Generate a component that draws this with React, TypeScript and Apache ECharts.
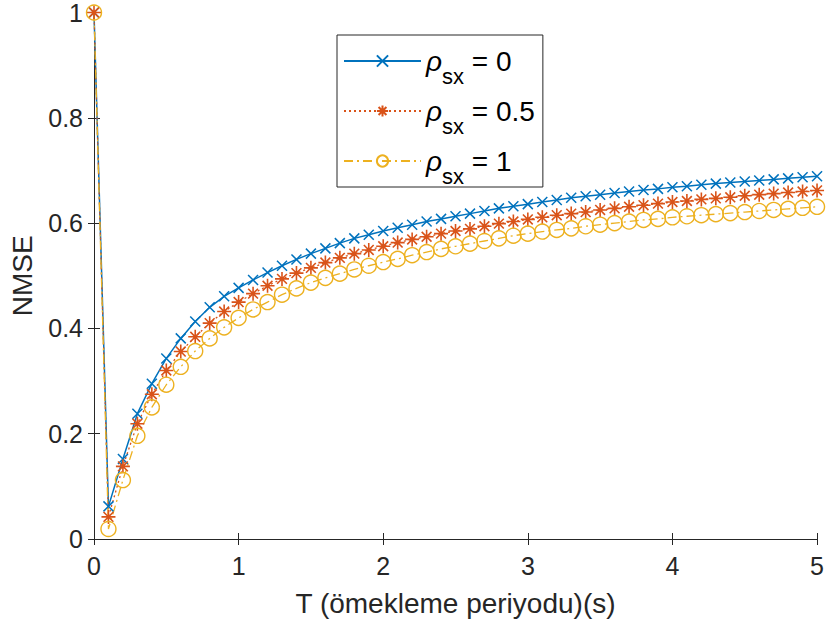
import React, { useEffect, useRef } from "react";
import * as echarts from "echarts";

// Sampling period T (s)
const tValues = [
  0, 0.1, 0.2, 0.3, 0.4, 0.5, 0.6, 0.7, 0.8, 0.9,
  1.0, 1.1, 1.2, 1.3, 1.4, 1.5, 1.6, 1.7, 1.8, 1.9,
  2.0, 2.1, 2.2, 2.3, 2.4, 2.5, 2.6, 2.7, 2.8, 2.9,
  3.0, 3.1, 3.2, 3.3, 3.4, 3.5, 3.6, 3.7, 3.8, 3.9,
  4.0, 4.1, 4.2, 4.3, 4.4, 4.5, 4.6, 4.7, 4.8, 4.9,
  5.0,
];

// NMSE for rho_sx = 0
const nmseRho0 = [
  1.0, 0.062, 0.152, 0.238, 0.295, 0.343, 0.381, 0.413, 0.44, 0.461,
  0.477, 0.492, 0.506, 0.519, 0.531, 0.542, 0.552, 0.562, 0.571, 0.578,
  0.585, 0.591, 0.597, 0.603, 0.608, 0.613, 0.618, 0.623, 0.628, 0.632,
  0.636, 0.64, 0.644, 0.648, 0.651, 0.654, 0.657, 0.66, 0.663, 0.665,
  0.668, 0.67, 0.673, 0.675, 0.677, 0.679, 0.681, 0.683, 0.685, 0.687,
  0.689,
];

// NMSE for rho_sx = 0.5
const nmseRho05 = [
  1.0, 0.042, 0.138, 0.219, 0.275, 0.32, 0.356, 0.384, 0.41, 0.432,
  0.45, 0.466, 0.481, 0.494, 0.505, 0.515, 0.525, 0.534, 0.542, 0.549,
  0.556, 0.563, 0.569, 0.574, 0.58, 0.585, 0.589, 0.594, 0.599, 0.603,
  0.607, 0.611, 0.615, 0.618, 0.621, 0.625, 0.628, 0.631, 0.634, 0.637,
  0.64, 0.642, 0.645, 0.647, 0.649, 0.652, 0.654, 0.656, 0.658, 0.66,
  0.662,
];

// NMSE for rho_sx = 1
const nmseRho1 = [
  1.0, 0.019, 0.112, 0.196, 0.25, 0.293, 0.327, 0.357, 0.381, 0.402,
  0.42, 0.436, 0.45, 0.464, 0.476, 0.487, 0.496, 0.504, 0.512, 0.519,
  0.526, 0.532, 0.539, 0.545, 0.551, 0.556, 0.561, 0.566, 0.571, 0.576,
  0.58, 0.584, 0.587, 0.59, 0.594, 0.597, 0.6, 0.603, 0.606, 0.608,
  0.611, 0.613, 0.615, 0.617, 0.619, 0.621, 0.623, 0.625, 0.627, 0.629,
  0.631,
];

const seriesNames = ["ρsx = 0", "ρsx = 0.5", "ρsx = 1"];
const legendValues = ["0", "0.5", "1"];
const xTickLabels = ["0", "1", "2", "3", "4", "5"];
const yTickLabels = ["0", "0.2", "0.4", "0.6", "0.8", "1"];

const xAxisTitle = "T (ömekleme periyodu)(s)";
const yAxisTitle = "NMSE";

const FONT = "'Liberation Sans', Arial, Helvetica, sans-serif";
const AXIS_COLOR = "#262626";
const BLUE = "#0072BD";
const ORANGE = "#D95319";
const YELLOW = "#EDB120";

// marker outlines (stroked, not filled)
const crossPath = "path://M0,0L10,10M10,0L0,10";
const asteriskPath =
  "path://M5,0L5,10M0,5L10,5M1.5,1.5L8.5,8.5M8.5,1.5L1.5,8.5";

function pairs(values: number[]) {
  return tValues.map((t, i) => [t, values[i]]);
}

export default function App() {
  const ref = useRef<HTMLDivElement>(null);

  useEffect(() => {
    if (!ref.current) return;
    const chart = echarts.init(ref.current, null, { renderer: "svg" });

    const tickLabelStyle = {
      color: AXIS_COLOR,
      fontFamily: FONT,
      fontSize: 25,
    };
    const axisLine = { show: true, lineStyle: { color: AXIS_COLOR, width: 1 } };
    const axisTick = {
      show: true,
      inside: true,
      length: 6,
      lineStyle: { color: AXIS_COLOR, width: 1 },
    };

    const LH = 52;

    const option: any = {
      animation: false,
      backgroundColor: "#ffffff",
      grid: { left: 94, top: 11, right: 7, bottom: 88, containLabel: false },
      xAxis: [
        {
          type: "value",
          position: "bottom",
          min: 0,
          max: 5,
          interval: 1,
          axisLine,
          axisTick,
          splitLine: { show: false },
          axisLabel: {
            ...tickLabelStyle,
            margin: 14,
            formatter: (v: number) => xTickLabels[Math.round(v)] ?? "",
          },
          name: xAxisTitle,
          nameLocation: "middle",
          nameGap: 50,
          nameTextStyle: { color: AXIS_COLOR, fontFamily: FONT, fontSize: 28 },
        },
        {
          type: "value",
          position: "top",
          min: 0,
          max: 5,
          interval: 1,
          axisLine,
          axisTick,
          splitLine: { show: false },
          axisLabel: { show: false },
        },
      ],
      yAxis: [
        {
          type: "value",
          position: "left",
          min: 0,
          max: 1,
          interval: 0.2,
          axisLine,
          axisTick,
          splitLine: { show: false },
          axisLabel: {
            ...tickLabelStyle,
            margin: 11,
            formatter: (v: number) => yTickLabels[Math.round(v * 5)] ?? "",
          },
          name: yAxisTitle,
          nameLocation: "middle",
          nameGap: 58,
          nameRotate: 90,
          nameTextStyle: { color: AXIS_COLOR, fontFamily: FONT, fontSize: 28 },
        },
        {
          type: "value",
          position: "right",
          min: 0,
          max: 1,
          interval: 0.2,
          axisLine,
          axisTick,
          splitLine: { show: false },
          axisLabel: { show: false },
        },
      ],
      legend: {
        orient: "vertical",
        left: 337,
        top: 35,
        padding: [12, 8, 0, 6],
        itemGap: 10,
        itemWidth: 77,
        itemHeight: 14,
        borderColor: AXIS_COLOR,
        borderWidth: 1,
        backgroundColor: "#ffffff",
        data: seriesNames,
        formatter: (name: string) => {
          const i = seriesNames.indexOf(name);
          return `{r|ρ}{s|sx}{t| = ${legendValues[i]}}`;
        },
        textStyle: {
          color: "#000000",
          fontFamily: FONT,
          fontSize: 28,
          rich: {
            r: {
              fontFamily: FONT,
              fontStyle: "italic",
              fontSize: 28,
              lineHeight: LH,
              verticalAlign: "middle",
              color: "#000000",
            },
            s: {
              fontFamily: FONT,
              fontSize: 22,
              lineHeight: LH,
              verticalAlign: "bottom",
              color: "#000000",
            },
            t: {
              fontFamily: FONT,
              fontSize: 28,
              lineHeight: LH,
              verticalAlign: "middle",
              color: "#000000",
            },
          },
        },
      },
      series: [
        {
          name: seriesNames[0],
          type: "line",
          data: pairs(nmseRho0),
          clip: false,
          symbol: crossPath,
          symbolSize: 10,
          showAllSymbol: true,
          color: BLUE,
          lineStyle: { color: BLUE, width: 1.5, type: "solid" },
          itemStyle: { color: "rgba(0,0,0,0)", borderColor: BLUE, borderWidth: 1.5 },
        },
        {
          name: seriesNames[1],
          type: "line",
          data: pairs(nmseRho05),
          clip: false,
          symbol: asteriskPath,
          symbolSize: 14,
          showAllSymbol: true,
          color: ORANGE,
          lineStyle: { color: ORANGE, width: 1.3, type: [2, 3] },
          itemStyle: { color: "rgba(0,0,0,0)", borderColor: ORANGE, borderWidth: 1.6 },
        },
        {
          name: seriesNames[2],
          type: "line",
          data: pairs(nmseRho1),
          clip: false,
          symbol: "circle",
          symbolSize: 15,
          showAllSymbol: true,
          color: YELLOW,
          lineStyle: { color: YELLOW, width: 1.3, type: [9, 4, 2, 4] },
          itemStyle: { color: "rgba(0,0,0,0)", borderColor: YELLOW, borderWidth: 1.4 },
        },
      ],
    };

    chart.setOption(option);
    return () => chart.dispose();
  }, []);

  return (
    <div
      ref={ref}
      style={{ position: "fixed", left: 0, top: 0, width: 827, height: 627 }}
    />
  );
}
